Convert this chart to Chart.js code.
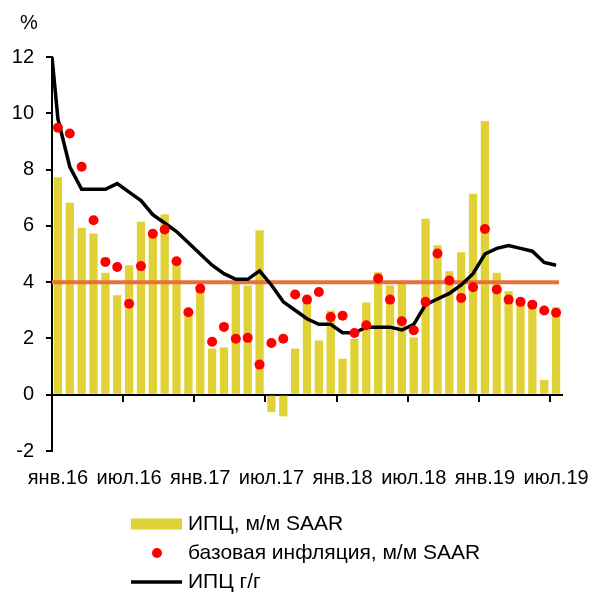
<!DOCTYPE html>
<html>
<head>
<meta charset="utf-8">
<script src="https://cdn.jsdelivr.net/npm/chart.js@4"></script>
<style>
  html, body { margin: 0; padding: 0; background: #fff; }
  #wrap { width: 594px; height: 593px; }
</style>
</head>
<body>
<div id="wrap"><canvas id="chart"></canvas></div>
<script>
const months = [
  'янв.16', 'фев.16', 'мар.16', 'апр.16', 'май.16', 'июн.16', 'июл.16', 'авг.16', 'сен.16', 'окт.16', 'ноя.16', 'дек.16',
  'янв.17', 'фев.17', 'мар.17', 'апр.17', 'май.17', 'июн.17', 'июл.17', 'авг.17', 'сен.17', 'окт.17', 'ноя.17', 'дек.17',
  'янв.18', 'фев.18', 'мар.18', 'апр.18', 'май.18', 'июн.18', 'июл.18', 'авг.18', 'сен.18', 'окт.18', 'ноя.18', 'дек.18',
  'янв.19', 'фев.19', 'мар.19', 'апр.19', 'май.19', 'июн.19', 'июл.19'
];

// ИПЦ, м/м SAAR
const cpiMom = [
  7.73, 6.82, 5.93, 5.73, 4.33, 3.53, 4.60, 6.15, 5.65, 6.41, 4.69, 2.88,
  3.80, 1.64, 1.68, 3.97, 3.88, 5.84, -0.62, -0.77, 1.64, 3.30, 1.93, 2.99,
  1.28, 1.98, 3.28, 4.35, 3.88, 3.94, 2.04, 6.25, 5.31, 4.39, 5.06, 7.14,
  9.73, 4.33, 3.68, 3.26, 3.14, 0.53, 3.11
];

// базовая инфляция, м/м SAAR
const coreMom = [
  9.49, 9.28, 8.10, 6.20, 4.72, 4.54, 3.23, 4.57, 5.72, 5.87, 4.74, 2.93,
  3.77, 1.88, 2.41, 1.99, 2.02, 1.07, 1.84, 1.99, 3.56, 3.38, 3.65, 2.76,
  2.81, 2.19, 2.47, 4.13, 3.38, 2.61, 2.29, 3.30, 5.02, 4.06, 3.44, 3.82,
  5.89, 3.74, 3.38, 3.30, 3.20, 2.99, 2.91
];

// ИПЦ г/г, starts one month before the axis (дек.15), that point gets clipped
const cpiYoy = [
  14.2,
  9.8, 8.1, 7.3, 7.3, 7.3, 7.5, 7.2, 6.9, 6.4, 6.1, 5.8, 5.4,
  5.0, 4.6, 4.3, 4.1, 4.1, 4.4, 3.9, 3.3, 3.0, 2.7, 2.5, 2.5,
  2.2, 2.2, 2.4, 2.4, 2.4, 2.3, 2.5, 3.2, 3.4, 3.6, 3.9, 4.3,
  5.0, 5.2, 5.3, 5.2, 5.1, 4.7, 4.6
];

const target = 4;
const yMin = -2, yMax = 12, yStep = 2;

const FONT = '"Liberation Sans", Arial, sans-serif';
Chart.defaults.font.family = FONT;
Chart.defaults.font.size = 20;
Chart.defaults.color = '#000';

// legend drawn as three left-aligned rows under the plot
const rowLegend = {
  id: 'rowLegend',
  afterDraw(chart) {
    const ctx = chart.ctx;
    const sets = chart.data.datasets.filter(d => d.inLegend !== false);
    ctx.save();
    ctx.textBaseline = 'middle';
    ctx.fillStyle = '#000';
    ctx.font = '20px ' + FONT;
    ctx.fillText('%', 20, 23);
    ctx.font = '21px ' + FONT;
    sets.forEach((ds, i) => {
      const y = 524 + i * 29;
      if (ds.type === 'line' && ds.showLine === false) {
        ctx.fillStyle = ds.pointBackgroundColor;
        ctx.beginPath();
        ctx.arc(157, y, ds.pointRadius, 0, Math.PI * 2);
        ctx.fill();
      } else if (ds.type === 'line') {
        ctx.strokeStyle = ds.borderColor;
        ctx.lineWidth = ds.borderWidth;
        ctx.beginPath();
        ctx.moveTo(131, y);
        ctx.lineTo(182, y);
        ctx.stroke();
      } else {
        ctx.fillStyle = ds.backgroundColor;
        ctx.fillRect(131, y - 5.5, 51, 11);
      }
      ctx.fillStyle = '#000';
      ctx.fillText(ds.label, 188, y);
    });
    ctx.restore();
  }
};

new Chart(document.getElementById('chart'), {
  type: 'bar',
  data: {
    labels: months,
    datasets: [
      {
        label: 'ИПЦ, м/м SAAR',
        data: cpiMom,
        backgroundColor: '#E0D236',
        grouped: false,
        categoryPercentage: 1,
        barPercentage: 0.7,
        order: 4
      },
      {
        type: 'line',
        label: 'базовая инфляция, м/м SAAR',
        data: coreMom,
        showLine: false,
        pointRadius: 5,
        pointBackgroundColor: '#FF0000',
        pointBorderWidth: 0,
        order: 1
      },
      {
        type: 'line',
        label: 'ИПЦ г/г',
        data: cpiYoy.map((v, i) => ({ x: i - 1, y: v })),
        xAxisID: 'xLin',
        borderColor: '#000000',
        borderWidth: 3.5,
        pointRadius: 0,
        tension: 0,
        order: 2
      },
      {
        type: 'line',
        label: 'цель',
        inLegend: false,
        data: [{ x: -0.5, y: target }, { x: months.length - 0.75, y: target }],
        xAxisID: 'xLin',
        borderColor: '#E8703A',
        borderWidth: 4,
        pointRadius: 0,
        order: 3
      }
    ]
  },
  options: {
    responsive: true,
    maintainAspectRatio: false,
    devicePixelRatio: 1,
    animation: false,
    layout: { padding: { left: 0, right: 32, top: 57, bottom: 97 } },
    plugins: {
      legend: { display: false },
      tooltip: { enabled: false }
    },
    scales: {
      x: {
        type: 'category',
        offset: true,
        grid: { display: false, drawTicks: true, tickLength: 15 },
        border: { display: false },
        ticks: {
          autoSkip: false,
          maxRotation: 0,
          padding: 0,
          callback: (v, i) => (i % 6 === 0 ? months[i] : '')
        },
        afterFit: s => { s.height = 45; }
      },
      xZero: {
        type: 'category',
        position: { y: 0 },
        offset: true,
        z: 1,
        grid: {
          offset: true,
          drawOnChartArea: false,
          tickLength: 6,
          lineWidth: 2,
          color: c => (c.index % 6 === 0 ? '#000' : 'rgba(0,0,0,0)')
        },
        border: { color: '#000', width: 2 },
        ticks: { display: false }
      },
      xLin: {
        type: 'linear',
        display: false,
        offset: false,
        min: -0.5,
        max: months.length - 0.5
      },
      y: {
        min: yMin,
        max: yMax,
        z: 1,
        ticks: { stepSize: yStep, padding: 12 },
        grid: { drawOnChartArea: false, tickLength: 6, lineWidth: 2, color: '#000' },
        border: { color: '#000', width: 2 },
        afterFit: s => { s.width = 52; }
      }
    }
  },
  plugins: [rowLegend]
});
</script>
</body>
</html>
